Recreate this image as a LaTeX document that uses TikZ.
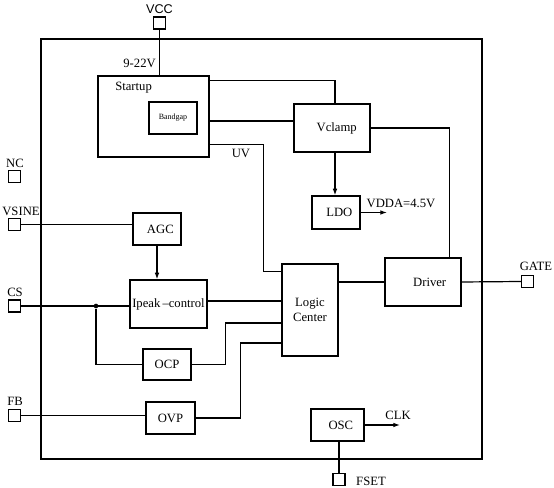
\documentclass[tikz,border=0pt]{standalone}
\usepackage{fontspec}
\setmainfont{Liberation Serif}
\newfontfamily\pinfont{Liberation Sans}
\usepackage{tikz}
\usetikzlibrary{arrows.meta, positioning, calc}
\tikzset{
  blocknode/.style={
    rectangle, draw, line width=0.9pt,
    inner sep=0pt, align=center,
    font=\fontsize{9.5}{11}\selectfont
  },
  pinnode/.style={
    rectangle, draw, line width=0.9pt,
    minimum size=9pt, inner sep=0pt
  },
  textnode/.style={
    inner sep=0pt, font=\fontsize{9.5}{11}\selectfont
  },
  wire/.style={
    line width=0.9pt
  },
  sigarrow/.style={
    -{Latex[length=5pt,width=3.5pt]}, line width=0.9pt
  },
  junction/.style={
    circle, fill, minimum size=3.5pt, inner sep=0pt
  }
}

\begin{document}
\begin{tikzpicture}[x=0.75pt, y=-0.75pt]
  \useasboundingbox (0,0) rectangle (554,488);

  % chip outline and blocks
  \node[blocknode, minimum width=330.75pt, minimum height=315pt] (chip) at (261.5,249) {};
  \node[blocknode, minimum width=83.25pt, minimum height=60.75pt] (startup) at (153.5,116.5) {};
  \node[textnode, anchor=west] (startuptxt) at (115,88) {Startup};
  \node[blocknode, minimum width=36pt, minimum height=24pt, font=\fontsize{6}{7}\selectfont] (bandgap) at (173,118) {Bandgap};
  \node[blocknode, minimum width=57pt, minimum height=36pt] (vclamp) at (332,128) {\hspace*{7pt}Vclamp};
  \node[blocknode, minimum width=36pt, minimum height=24.75pt] (ldo) at (336,212.5) {\hspace*{5pt}LDO};
  \node[blocknode, minimum width=36pt, minimum height=24pt] (agc) at (157,229) {\hspace*{5pt}AGC};
  \node[blocknode, minimum width=57.75pt, minimum height=36pt] (ipeak) at (168.5,304) {Ipeak\,--control};
  \node[blocknode, minimum width=42pt, minimum height=69pt] (logic) at (310,310) {Logic\\Center};
  \node[blocknode, minimum width=57pt, minimum height=36pt] (driver) at (423,282) {\hspace*{10pt}Driver};
  \node[blocknode, minimum width=36pt, minimum height=23.25pt] (ocp) at (167,364.5) {OCP};
  \node[blocknode, minimum width=36.75pt, minimum height=24pt] (ovp) at (170.5,418) {OVP};
  \node[blocknode, minimum width=39.75pt, minimum height=24pt] (osc) at (337.5,425) {\hspace*{5pt}OSC};

  % pins
  \node[pinnode] (vccpin) at (159.5,23) {};
  \node[pinnode] (ncpin) at (14.5,176.5) {};
  \node[pinnode] (vsinepin) at (14.5,224.5) {};
  \node[pinnode] (cspin) at (14.5,306) {};
  \node[pinnode] (fbpin) at (14.5,415.5) {};
  \node[pinnode] (gatepin) at (527.5,281.5) {};
  \node[pinnode] (fsetpin) at (339,479.5) {};

  \node[textnode, font=\pinfont\fontsize{9.5}{11}\selectfont] (vcclbl) at (159.5,9) {VCC};
  \node[textnode] (nclbl) at (15,163) {NC};
  \node[textnode] (vsinelbl) at (21,211) {VSINE};
  \node[textnode] (cslbl) at (15,292) {CS};
  \node[textnode] (fblbl) at (15,401) {FB};
  \node[textnode] (gatelbl) at (536,266) {GATE};
  \node[textnode] (fsetlbl) at (371,481) {FSET};

  % signal labels
  \node[textnode, anchor=east] (supplylbl) at (156,63) {9-22V};
  \node[textnode] (uvlbl) at (241,153) {UV};
  \node[textnode] (vddalbl) at (401,203) {VDDA=4.5V};
  \node[textnode] (clklbl) at (398,415) {CLK};

  \coordinate (vdda) at (387,212.5);
  \coordinate (clk) at (400,425);
  \coordinate (vcl) at ($(vclamp.south)+(3,0)$);
  \node[junction] (csdot) at (96,306) {};

  % connections
  \draw[wire] (vccpin.south) -- (vccpin.south |- startup.north);
  \draw[wire] ($(startup.north east)+(0,5)$) -| ($(vclamp.north)+(3,0)$);
  \draw[wire] ($(startup.east)+(0,4.5)$) -- ($(vclamp.west)+(0,-7)$);
  \draw[wire] ($(startup.south east)+(0,-13)$) -| ($(logic.north west)+(-18,8)$) -- ($(logic.north west)+(0,8)$);
  \draw[wire] (vclamp.east) -| ($(driver.north east)+(-12,0)$);
  \draw[sigarrow] (vcl) -- (vcl |- ldo.north);
  \draw[sigarrow] (ldo.east) -- (vdda);

  \draw[wire] (vsinepin.east) -- (vsinepin.east -| agc.west);
  \draw[sigarrow] (agc.south) -- (agc.south |- ipeak.north);
  \draw[wire] (cspin.east) -- (cspin.east -| ipeak.west);
  \draw[wire] (csdot) |- (ocp.west);
  \draw[wire] ($(ipeak.east)+(0,-3)$) -- ($(logic.west)+(0,-9)$);
  \draw[wire] (ocp.east) -| ($(logic.west)+(-56,13)$) -- ($(logic.west)+(0,13)$);
  \draw[wire] (fbpin.east) -- (fbpin.east -| ovp.west);
  \draw[wire] (ovp.east) -| ($(logic.west)+(-41,33)$) -- ($(logic.west)+(0,33)$);
  \draw[wire] (driver.west) -- (driver.west -| logic.east);
  \draw[wire] (driver.east) -- (gatepin.west);

  \draw[sigarrow] (osc.east) -- (clk);
  \draw[wire] (fsetpin.north) -- (fsetpin.north |- osc.south);
\end{tikzpicture}
\end{document}
